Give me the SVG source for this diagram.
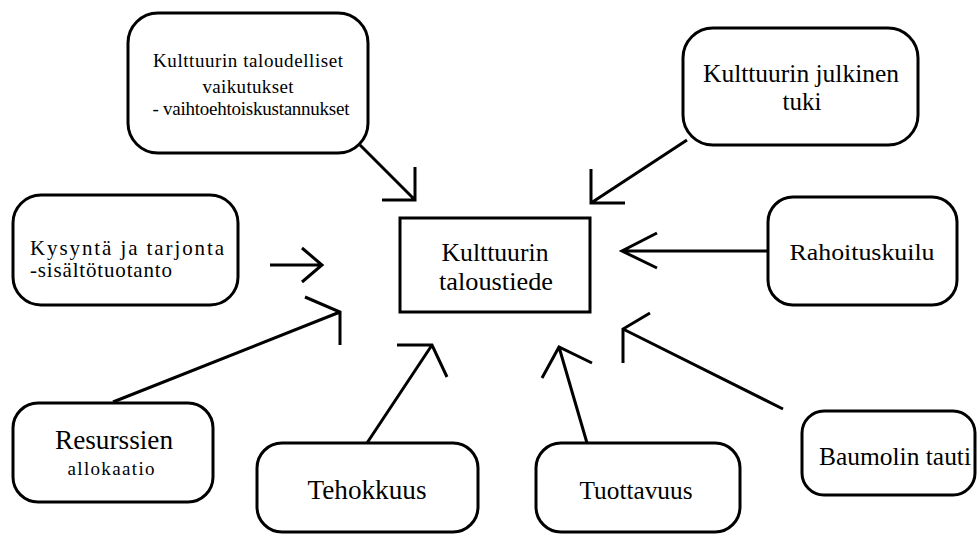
<svg xmlns="http://www.w3.org/2000/svg" width="978" height="534" viewBox="0 0 978 534">
<style>
.box{fill:#fff;stroke:#000;stroke-width:3}
.t{fill:#000;text-anchor:middle}
.c{fill:none;stroke:#000;stroke-width:3;stroke-linejoin:miter}
</style>
<rect width="978" height="534" fill="#fff"/>
<g id="connectors">
<path class="c" d="M360,145 L415,200 M415,167 L415,200 L382,200"/>
<path class="c" d="M687,140 L591,203 M591,169 L591,203 L625,203"/>
<path class="c" d="M270,265 L322,265 M302,248 L322,265 L302,282"/>
<path class="c" d="M768,251 L622,251 M657,233 L622,251 L657,268"/>
<path class="c" d="M113,402 L340,312 M340,345 L340,312 L305,297"/>
<path class="c" d="M367,443 L432,345 M397,345 L432,345 L447,377"/>
<path class="c" d="M587,443 L559,347 M542,378 L559,347 L592,363"/>
<path class="c" d="M783,409 L623,329 M623,363 L623,329 L650,313"/>
</g>
<g font-family="'Liberation Serif', 'Times New Roman', serif">
<g id="n-vaikutukset">
<rect class="box" x="128" y="13" width="240" height="140" rx="30"/>
<text class="t" x="248" y="67" font-size="19" textLength="190" lengthAdjust="spacing">Kulttuurin taloudelliset</text>
<text class="t" x="248" y="93" font-size="19" textLength="91" lengthAdjust="spacing">vaikutukset</text>
<text class="t" x="251" y="115" font-size="19" textLength="197" lengthAdjust="spacing">- vaihtoehtoiskustannukset</text>
</g>
<g id="n-julkinen">
<rect class="box" x="683" y="28" width="235" height="117" rx="30"/>
<text class="t" x="801" y="82" font-size="25" textLength="196" lengthAdjust="spacingAndGlyphs">Kulttuurin julkinen</text>
<text class="t" x="802" y="110" font-size="25">tuki</text>
</g>
<g id="n-kysynta">
<rect class="box" x="13" y="195" width="225" height="110" rx="28"/>
<text x="30" y="255" font-size="21" textLength="194" lengthAdjust="spacing">Kysyntä ja tarjonta</text>
<text x="30" y="277" font-size="21" textLength="142" lengthAdjust="spacing">-sisältötuotanto</text>
</g>
<g id="n-center">
<rect class="box" x="400" y="218" width="190" height="94"/>
<text class="t" x="495" y="261" font-size="26" textLength="107" lengthAdjust="spacingAndGlyphs">Kulttuurin</text>
<text class="t" x="496" y="290" font-size="26" textLength="114" lengthAdjust="spacingAndGlyphs">taloustiede</text>
</g>
<g id="n-rahoitus">
<rect class="box" x="768" y="197" width="189" height="108" rx="25"/>
<text class="t" x="862" y="260" font-size="24" textLength="145" lengthAdjust="spacingAndGlyphs">Rahoituskuilu</text>
</g>
<g id="n-resurssien">
<rect class="box" x="13" y="403" width="200" height="99" rx="25"/>
<text class="t" x="114" y="449" font-size="27" textLength="118" lengthAdjust="spacingAndGlyphs">Resurssien</text>
<text class="t" x="111" y="475" font-size="19" textLength="87" lengthAdjust="spacing">allokaatio</text>
</g>
<g id="n-tehokkuus">
<rect class="box" x="257" y="443" width="221" height="89" rx="25"/>
<text class="t" x="367" y="499" font-size="27" textLength="119" lengthAdjust="spacingAndGlyphs">Tehokkuus</text>
</g>
<g id="n-tuottavuus">
<rect class="box" x="536" y="443" width="204" height="89" rx="25"/>
<text class="t" x="636" y="499" font-size="25" textLength="113" lengthAdjust="spacingAndGlyphs">Tuottavuus</text>
</g>
<g id="n-baumol">
<rect class="box" x="802" y="411" width="173" height="84" rx="22"/>
<text class="t" x="895" y="465" font-size="25" textLength="152" lengthAdjust="spacingAndGlyphs">Baumolin tauti</text>
</g>
</g>
</svg>
